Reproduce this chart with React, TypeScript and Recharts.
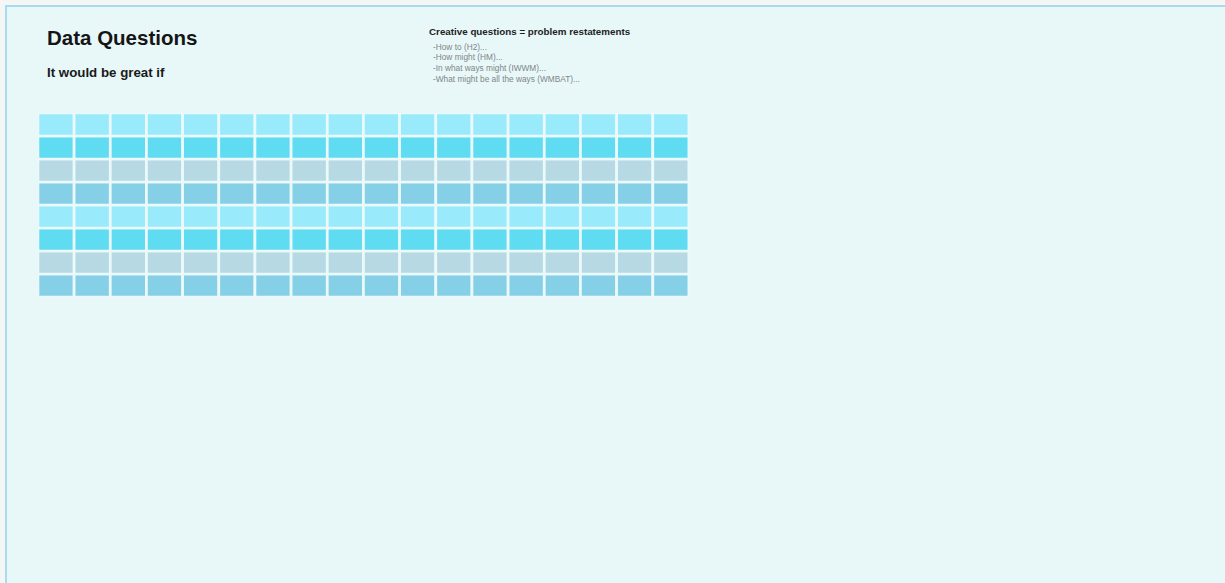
import { BarChart, Bar, XAxis, YAxis } from "recharts";

// Sticky-note grid: 18 columns x 8 rows, every note the same size
const columns = [
  "c1", "c2", "c3", "c4", "c5", "c6", "c7", "c8", "c9",
  "c10", "c11", "c12", "c13", "c14", "c15", "c16", "c17", "c18",
];
// listed top to bottom
const rowKeys = ["row1", "row2", "row3", "row4", "row5", "row6", "row7", "row8"];
const rowColors = [
  "#99eafb", "#5fdcf1", "#b7d9e4", "#86d0e7",
  "#99eafb", "#5fdcf1", "#b7d9e4", "#86d0e7",
];
const noteSize = 1;

const title = "Data Questions";
const subtitle = "It would be great if";
const promptTitle = "Creative questions = problem restatements";
const promptLines = [
  "-How to (H2)...",
  "-How might (HM)...",
  "-In what ways might (IWWM)...",
  "-What might be all the ways (WMBAT)...",
];

const BG = "#e8f8f9";

export default function App() {
  const data = columns.map((col) => {
    const row: Record<string, string | number> = { col };
    rowKeys.forEach((k) => (row[k] = noteSize));
    return row;
  });

  // stacked bars draw bottom-up, so reverse the top-to-bottom list
  const stackOrder = rowKeys.map((k, i) => ({ key: k, color: rowColors[i] })).reverse();

  return (
    <div
      style={{
        position: "fixed",
        left: 0,
        top: 0,
        width: 1225,
        height: 583,
        overflow: "hidden",
        background: "#f4f6f6",
        fontFamily: "'Liberation Sans', Arial, sans-serif",
      }}
    >
      <div
        style={{
          position: "absolute",
          left: 5,
          top: 5,
          width: 1400,
          height: 800,
          borderLeft: "2px solid #a6dcef",
          borderTop: "2px solid #a6dcef",
          background: BG,
        }}
      />
      <div
        style={{
          position: "absolute",
          left: 47,
          top: 26,
          fontSize: 20.5,
          fontWeight: 700,
          color: "#151515",
        }}
      >
        {title}
      </div>
      <div
        style={{
          position: "absolute",
          left: 47,
          top: 65,
          fontSize: 13.3,
          fontWeight: 700,
          color: "#1a1a1a",
        }}
      >
        {subtitle}
      </div>
      <div
        style={{
          position: "absolute",
          left: 429,
          top: 26,
          fontSize: 9.8,
          fontWeight: 700,
          color: "#222",
        }}
      >
        {promptTitle}
      </div>
      <div
        style={{
          position: "absolute",
          left: 433,
          top: 41.5,
          fontSize: 8.3,
          lineHeight: "10.8px",
          color: "#7f8586",
        }}
      >
        {promptLines.map((t) => (
          <div key={t}>{t}</div>
        ))}
      </div>

      <div style={{ position: "absolute", left: 38, top: 113 }}>
        <BarChart
          width={651}
          height={184}
          data={data}
          margin={{ top: 0, right: 0, bottom: 0, left: 0 }}
          barCategoryGap={0}
          barGap={0}
        >
          <XAxis dataKey="col" hide />
          <YAxis hide domain={[0, rowKeys.length]} />
          {stackOrder.map((r) => (
            <Bar
              key={r.key}
              dataKey={r.key}
              stackId="notes"
              fill={r.color}
              stroke="#ebf9fb"
              strokeWidth={2.6}
              isAnimationActive={false}
            />
          ))}
        </BarChart>
      </div>
    </div>
  );
}
